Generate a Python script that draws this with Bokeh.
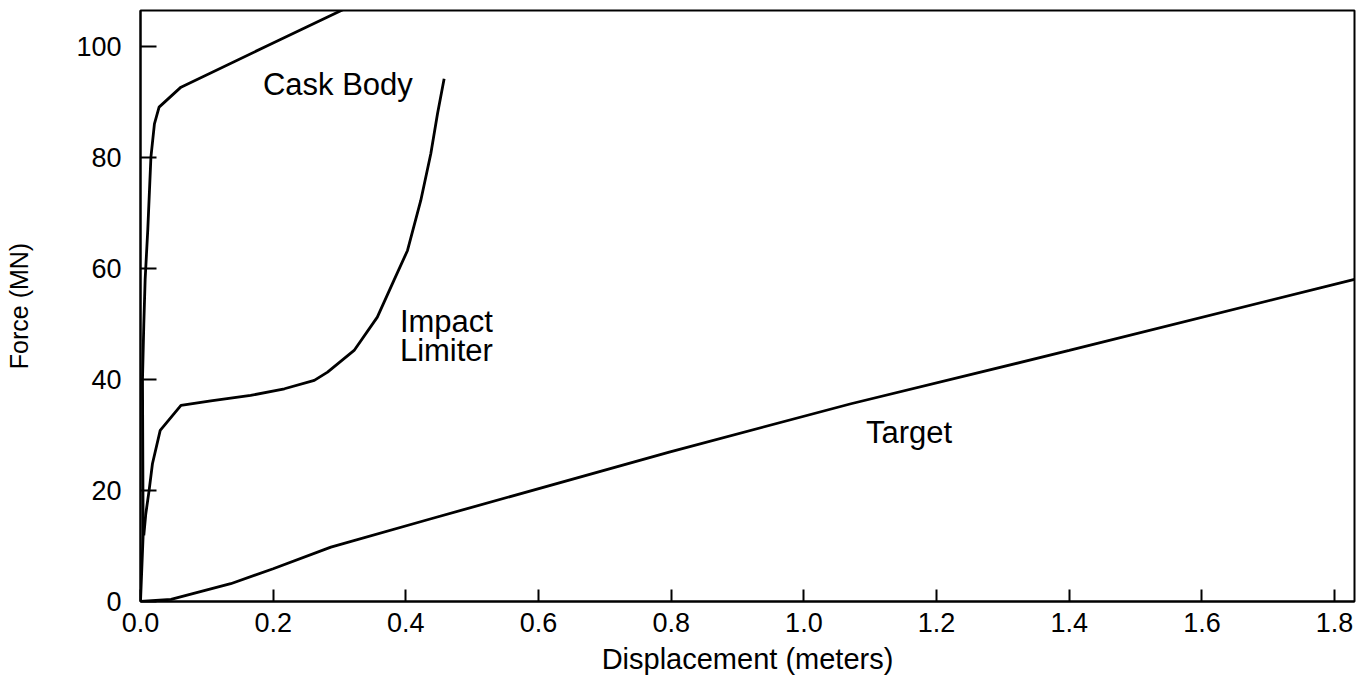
from bokeh.plotting import figure
from bokeh.models import Range1d, FixedTicker, PrintfTickFormatter
from bokeh.core.properties import value
from bokeh.embed import file_html
from bokeh.resources import INLINE

# Data
cask_x = [0, 0.004, 0.003, 0.005, 0.007, 0.011, 0.0157, 0.021, 0.028, 0.061, 0.192, 0.35]
cask_y = [0, 12, 40, 50, 58, 67, 80, 86, 89, 92.6, 100.1, 109.1]

limiter_x = [0.005, 0.008, 0.013, 0.018, 0.0297, 0.061, 0.106, 0.166, 0.217, 0.262,
             0.282, 0.322, 0.357, 0.382, 0.4025, 0.4225, 0.4376, 0.4477, 0.4577]
limiter_y = [11.9, 15.8, 20, 24.8, 30.8, 35.3, 36.1, 37.1, 38.3, 39.8,
             41.3, 45.2, 51.2, 57.8, 63.2, 72.2, 80.6, 87.8, 94.1]

target_x = [0, 0.046, 0.136, 0.2, 0.287, 0.438, 0.797, 1.071, 1.40, 1.83]
target_y = [0, 0.4, 3.2, 5.9, 9.8, 14.9, 26.9, 35.6, 45.2, 58.0]

x_ticks = [0.0, 0.2, 0.4, 0.6, 0.8, 1.0, 1.2, 1.4, 1.6, 1.8]
y_ticks = [0, 20, 40, 60, 80, 100]

label_text = ["Cask Body", "Impact", "Limiter", "Target"]
label_x = [0.1845, 0.391, 0.391, 1.0936]
label_y = [93.05, 50.4, 45.2, 30.5]

FONT = "Liberation Sans"

p = figure(width=1358, height=678, output_backend="svg", toolbar_location=None,
           x_range=Range1d(0, 1.83), y_range=Range1d(0, 106.4),
           min_border_left=140, min_border_right=4, min_border_top=10, min_border_bottom=77)

p.background_fill_color = "white"
p.border_fill_color = "white"
p.outline_line_color = "black"
p.outline_line_width = 2
p.xgrid.visible = False
p.ygrid.visible = False

for ax in (p.xaxis[0], p.yaxis[0]):
    ax.axis_line_color = "black"
    ax.axis_line_width = 2
    ax.major_tick_line_color = "black"
    ax.major_tick_line_width = 2
    ax.major_tick_out = 0
    ax.minor_tick_line_color = None
    ax.major_label_text_font = FONT
    ax.major_label_text_color = "black"
    ax.major_label_text_font_size = "27px"
    ax.axis_label_text_font = FONT
    ax.axis_label_text_font_style = "normal"
    ax.axis_label_text_color = "black"

p.xaxis.ticker = FixedTicker(ticks=x_ticks)
p.yaxis.ticker = FixedTicker(ticks=y_ticks)
p.xaxis.formatter = PrintfTickFormatter(format="%.1f")
p.yaxis.formatter = PrintfTickFormatter(format="%d")
p.xaxis.major_tick_in = 12
p.yaxis.major_tick_in = 16
p.xaxis.major_label_standoff = 11
p.yaxis.major_label_standoff = 19
p.xaxis.axis_label = "Displacement (meters)"
p.yaxis.axis_label = "Force (MN)"
p.xaxis.axis_label_text_font_size = "29px"
p.yaxis.axis_label_text_font_size = "25px"
p.xaxis.axis_label_standoff = 8
p.yaxis.axis_label_standoff = 40

p.line(cask_x, cask_y, line_color="black", line_width=2.8)
p.line(limiter_x, limiter_y, line_color="black", line_width=2.8)
p.line(target_x, target_y, line_color="black", line_width=2.8)

p.text(x=label_x, y=label_y, text=label_text, text_font=value(FONT),
       text_font_size="31px", text_color="black", text_baseline="alphabetic",
       text_align="left")

open("out.html", "w").write(file_html(p, INLINE))
